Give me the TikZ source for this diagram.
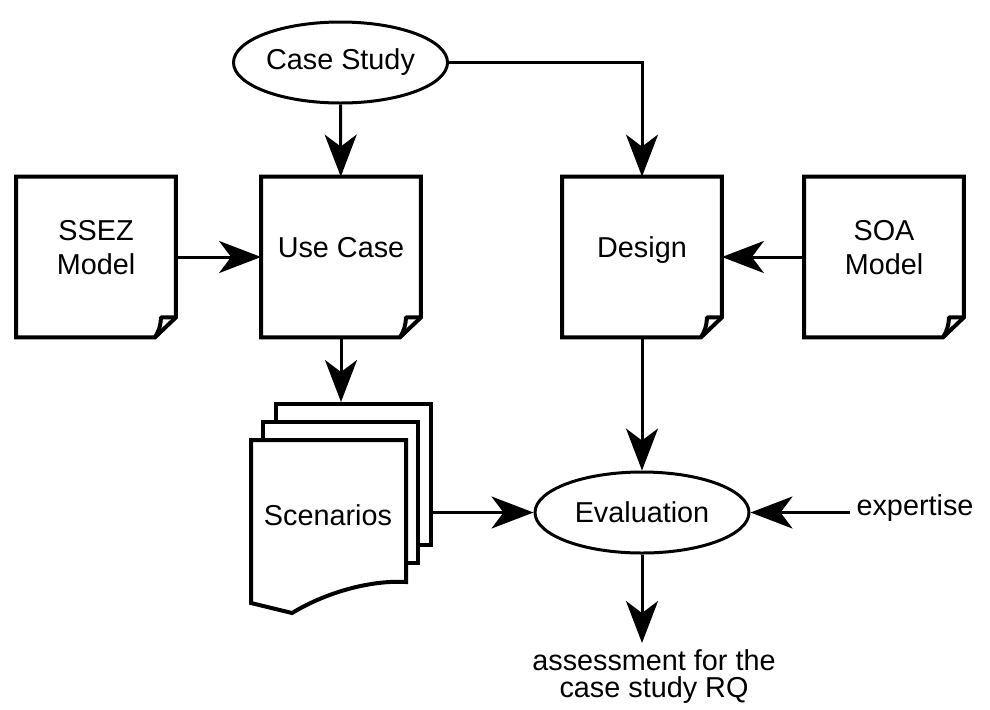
\documentclass[tikz,border=0pt]{standalone}
\usepackage{fontspec}
\setmainfont{Liberation Sans}
\usetikzlibrary{shapes.geometric,arrows.meta,calc}
\begin{document}
\begin{tikzpicture}[x=0.5pt,y=-0.5pt,font=\fontsize{14.4}{17}\selectfont]
\tikzset{doc/.style={minimum width=79.5pt,minimum height=80pt,inner sep=0pt,align=center,text depth=10pt},
  oval/.style={ellipse,draw,line width=1.5pt,minimum width=107pt,minimum height=40.5pt,inner sep=0pt},
  page/.style={draw,line width=2pt,fill=white,minimum width=77.5pt,minimum height=70.5pt,inner sep=0pt},
  flow/.style={-{Stealth[length=21pt,width=16pt,inset=6pt]},line width=1.5pt}}
\useasboundingbox (0,0) rectangle (990,709);
\node[oval] (case) at (340.5,62.5) {Case Study};
\node[doc] (ssez) at (96,257) {SSEZ\\Model};
\node[doc] (use) at (341,257) {Use Case};
\node[doc] (design) at (642,257) {Design};
\node[doc] (soa) at (884,257) {SOA\\Model};
\foreach \d in {ssez,use,design,soa} {
  \draw[line width=2pt] (\d.north west) -- (\d.north east) -- ($(\d.south east)+(0,-20)$) -- ($(\d.south east)+(-21,0)$) -- (\d.south west) -- cycle;
  \draw[line width=2pt,line join=round] ($(\d.south east)+(0,-20)$) -- ($(\d.south east)+(-15,-20)$) to[bend left=15] ($(\d.south east)+(-21,0)$);
}
\node[page] (sc3) at (353,474.5) {};
\node[page] (sc2) at (340.5,492.5) {};
\draw[line width=2pt,fill=white] (251,440) -- (406,440) -- (406,582) .. controls (375,580) and (330,590) .. (292,613) -- (251,603) -- cycle;
\node (scen) at (328,515) {Scenarios};
\node[oval] (eval) at (642,512.5) {Evaluation};
\node (exp) at (915,508) {expertise};
\node[align=center,font=\fontsize{14.4}{13.5}\selectfont] (res) at (654,677) {assessment for the\\case study RQ};
\draw[flow] (case) -- (use);
\draw[flow] (case.east) -| (design.north);
\draw[flow] (ssez) -- (use);
\draw[flow] (soa) -- (design);
\draw[flow] (use.south) -- (use.south |- sc3.north);
\draw[flow] (design) -- (eval);
\draw[flow] (sc3.east |- eval) -- (eval);
\draw[flow] (exp.west |- eval) -- (eval);
\draw[flow] (eval.south) -- (eval.south |- res.north);
\end{tikzpicture}
\end{document}
